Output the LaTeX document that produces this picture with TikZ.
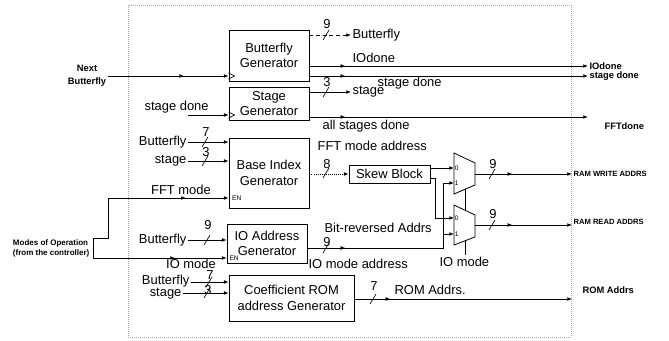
\documentclass[tikz,border=0pt]{standalone}
\usepackage{fontspec}
\setmainfont{Liberation Sans}
\usetikzlibrary{arrows.meta, positioning, decorations.markings}

\begin{document}
\begin{tikzpicture}[
  x=0.75pt, y=-0.75pt,
  block/.style={rectangle, draw, line width=0.6pt, align=center,
    font=\fontsize{9.7}{11.5}\selectfont, inner sep=0pt},
  lbl/.style={font=\fontsize{9.7}{11}\selectfont, inner sep=1pt},
  pin/.style={font=\fontsize{7}{9.5}\selectfont\bfseries, inner sep=1pt},
  ram/.style={font=\fontsize{5.7}{7}\selectfont\bfseries, inner sep=1pt},
  tiny/.style={font=\fontsize{5}{6}\selectfont, inner sep=0.5pt},
  wire/.style={line width=0.55pt, -{Latex[length=3.5pt,width=2.8pt]}},
  midtip/.style={postaction={decorate, decoration={markings,
      mark=at position #1 with {\arrow{Latex[length=3.5pt,width=2.8pt]}}}}},
  frame/.style={draw=gray!70, densely dotted, line width=0.5pt},
]
\useasboundingbox (0,0) rectangle (669,341);
\draw[frame] (128,5) rectangle (571,337);

% generator blocks
\node[block, minimum width=60pt, minimum height=38.25pt]
      (bfly) at (269,55.5) {Butterfly\\Generator};
\node[block, minimum width=60pt, minimum height=24.75pt]
      (stg) at (269,103.5) {Stage\\Generator};
\node[block, minimum width=60pt, minimum height=52.5pt]
      (base) at (269,173) {Base Index\\Generator};
\node[block, minimum width=60pt, minimum height=29.25pt]
      (ioa) at (267,243.5) {IO Address\\Generator};
\node[block, minimum width=93.75pt, minimum height=34.5pt]
      (coef) at (291.5,298) {Coefficient ROM\\address Generator};
\node[block, minimum width=60.75pt, minimum height=13.5pt]
      (skew) at (389.5,174) {Skew Block};

% muxes
\draw[line width=0.6pt] (454,153) -- (475,163) -- (475,185) -- (454,194) -- cycle;
\draw[line width=0.6pt] (454,205) -- (475,215) -- (475,237) -- (454,245) -- cycle;
\coordinate (m1a) at (454,168);
\coordinate (m1b) at (454,183);
\coordinate (m1o) at (475,174);
\coordinate (m1s) at (465,189);
\coordinate (m2a) at (454,218);
\coordinate (m2b) at (454,234);
\coordinate (m2o) at (475,225);
\coordinate (m2t) at (465,210);
\coordinate (m2s) at (465,241);
\foreach \n/\c in {a/0, b/1}{
  \node[tiny, anchor=west] (m1\n l) at (m1\n) {\c};
  \node[tiny, anchor=west] (m2\n l) at (m2\n) {\c};
}
\draw[line width=0.55pt] (m1s) -- (m2t);
\draw[line width=0.55pt] (m2s) -- ++(0,14);

% left side
\node[pin, align=center] (nxt) at (87,76) {Next\\Butterfly};
\coordinate (nb) at (108,76);
\draw[wire, midtip=57pt] (nb) -- (bfly.west |- nb);
\draw[line width=0.5pt] (bfly.west |- nb) ++(0,-3) -- ++(6,3) -- ++(-6,3);

\node[lbl, anchor=west] (sdin) at (143,107) {stage done};
\coordinate (sd) at (188,115);
\draw[wire] (sd) -- (stg.west |- sd);
\draw[line width=0.5pt] (stg.west |- sd) ++(0,-3) -- ++(6,3) -- ++(-6,3);

\node[lbl, anchor=east] (bi1) at (188,142) {Butterfly};
\node[lbl, anchor=east] (bi2) at (188,161) {stage};
\draw[wire] (bi1.east) -- (base.west |- bi1);
\draw[wire] (bi2.east) -- (base.west |- bi2);

\node[pin, font=\fontsize{6}{7.5}\selectfont\bfseries, align=left, anchor=east]
      (modes) at (91,248) {Modes of Operation\\(from the controller)};
\coordinate (brtop) at (95,238);
\coordinate (brbot) at (95,258);
\draw[line width=0.5pt] (brtop) -- ++(-2,0) |- (brbot);

\node[lbl] (fftm) at (181,190) {FFT mode};
\coordinate (en1) at (108,198);
\draw[wire, midtip=-32pt] (brtop) -| (en1) -- (base.west |- en1);
\node[tiny, anchor=west, xshift=2pt] (en1l) at (base.west |- en1) {EN};

\node[lbl, anchor=east] (io1) at (188,240) {Butterfly};
\draw[wire] (io1.east) -- (ioa.west |- io1);
\draw[wire, midtip=60pt] (brbot) -- (ioa.west |- brbot);
\node[tiny, anchor=west, xshift=1.5pt] (en2l) at (ioa.west |- brbot) {EN};
\node[lbl] (iom) at (191,264) {IO mode};

\node[lbl, anchor=east] (cr1) at (191,281) {Butterfly};
\node[lbl, anchor=east] (cr2) at (183,294) {stage};
\draw[wire] (cr1.east |- 0,282) -- (coef.west |- 0,282);
\draw[wire] (cr2.east |- 0,293) -- (coef.west |- 0,293);

% bus widths
\foreach \x/\y/\n/\d in {326/35/9/11, 326/92/3/10, 205/142/7/10, 205/161/3/9,
  326/173/8/9, 207/240/9/15, 326/248/9/6, 209/282/7/7, 207/293/3/3,
  373/299/7/13, 492/174/9/10, 492/225/9/11}{
  \draw[line width=0.5pt] (\x-3,\y+5) -- (\x+3,\y-5);
  \node[lbl] (w\x-\y) at (\x+1,\y-\d) {\n};
}

% butterfly / stage generator outputs
\node[lbl, anchor=west] (bfo) at (351,35) {Butterfly};
\draw[wire, densely dashed] (bfly.east |- bfo) -- (bfo.west);

\node[pin, anchor=west] (iod) at (588,66) {IOdone};
\draw[wire, midtip=27pt] (bfly.east |- iod) -- (iod.west);
\node[lbl, anchor=west] (iodl) at (351,58) {IOdone};

\node[pin, anchor=west] (sdo) at (588,76) {stage done};
\draw[wire, midtip=27pt] (bfly.east |- sdo) -- (sdo.west);
\node[lbl, anchor=west] (sdol) at (376,83) {stage done};

\node[lbl, anchor=west] (sto) at (351,92) {stage};
\draw[wire] (stg.east |- sto) -- (sto.west);

\coordinate (fftd) at (588,117);
\draw[wire, midtip=27pt] (stg.east |- fftd) -- (fftd);
\node[pin, anchor=west] (fftdl) at (603,126) {FFTdone};
\node[lbl, anchor=west] (asd) at (321,126) {all stages done};

% address paths
\node[lbl, anchor=west] (fftma) at (316,146) {FFT mode address};
\draw[wire, densely dotted] (base.east |- skew) -- (skew.west);
\draw[wire] (skew.east |- m1a) -- (m1a);
\draw[wire] (skew.east |- 0,178) -- ++(5,0) |- (m2a);

\node[lbl, anchor=west] (bra) at (323,228) {Bit-reversed Addrs};
\node[lbl, anchor=west] (ioma) at (307,264) {IO mode address};
\draw[wire, midtip=28.5pt] (ioa.east |- 0,248) -| ([xshift=-8.25pt]m1b) -- (m1b);
\draw[wire] ([xshift=-8.25pt]m2b) -- (m2b);
\node[lbl, anchor=west] (iomd) at (438,262) {IO mode};

\node[ram, anchor=west] (rwl) at (572,174) {RAM WRITE ADDRS};
\node[ram, anchor=west] (rrl) at (572,222) {RAM READ ADDRS};
\draw[wire, midtip=28pt] (m1o) -- (m1o -| rwl.west);
\draw[wire, midtip=28pt] (m2o) -- (m2o -| rrl.west);

\coordinate (romend) at (572,299);
\draw[wire, midtip=27pt] (coef.east |- romend) -- (romend);
\node[lbl, anchor=west] (roma) at (393,290) {ROM Addrs.};
\node[pin, anchor=west] (roml) at (581,290) {ROM Addrs};

\end{tikzpicture}
\end{document}
